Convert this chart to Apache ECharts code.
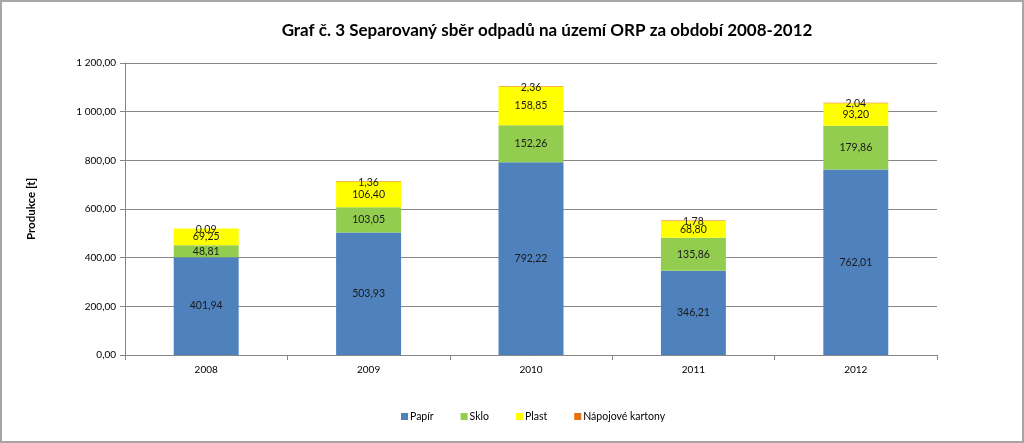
<!DOCTYPE html>
<html>
<head>
<meta charset="utf-8">
<script src="https://cdn.jsdelivr.net/npm/echarts@6/dist/echarts.min.js"></script>
<style>
html,body{margin:0;padding:0;background:#fff;}
#wrap{position:absolute;left:0;top:0;width:1020px;height:439px;border:2px solid #a6a6a6;}
#chart{position:absolute;left:0;top:0;width:1024px;height:443px;}
</style>
</head>
<body>
<div id="wrap"></div>
<div id="chart"></div>
<script>
const categories = ['2008', '2009', '2010', '2011', '2012'];
const papir = [401.94, 503.93, 792.22, 346.21, 762.01];
const sklo = [48.81, 103.05, 152.26, 135.86, 179.86];
const plast = [69.25, 106.40, 158.85, 68.80, 93.20];
const kartony = [0.09, 1.36, 2.36, 1.78, 2.04];
const seriesNames = ['Papír', 'Sklo', 'Plast', 'Nápojové kartony'];
const yTicks = [0, 200, 400, 600, 800, 1000, 1200];

const colors = ['#4F81BD', '#92CD50', '#FFFF00', '#E8700E'];
const fontFam = 'Lato, "Liberation Sans", sans-serif';

function fmt(v, withSpace) {
  let s = v.toFixed(2).replace('.', ',');
  if (withSpace) {
    const parts = s.split(',');
    parts[0] = parts[0].replace(/\B(?=(\d{3})+(?!\d))/g, ' ');
    s = parts.join(',');
  }
  return s;
}

const chart = echarts.init(document.getElementById('chart'), null, {renderer: 'canvas'});
const datasets = [papir, sklo, plast, kartony];
const option = {
  animation: false,
  color: colors,
  title: {
    text: 'Graf č. 3 Separovaný sběr odpadů na území ORP za období 2008-2012',
    left: 542, top: 17, textAlign: 'center',
    textStyle: {fontFamily: fontFam, fontSize: 17, fontWeight: 'bold', color: '#000'}
  },
  legend: {
    top: 406, left: 396,
    itemWidth: 7, itemHeight: 7, itemGap: 27,
    icon: 'rect',
    textStyle: {fontFamily: fontFam, fontSize: 10.5, color: '#000', padding: [0, 0, 0, -3]},
    data: seriesNames
  },
  grid: {left: 125, right: 87, top: 63, bottom: 88, containLabel: false},
  xAxis: {
    type: 'category', data: categories,
    axisLine: {lineStyle: {color: '#868686', width: 1}},
    axisTick: {show: true, length: 5, inside: false, lineStyle: {color: '#868686'}},
    axisLabel: {fontFamily: fontFam, fontSize: 10, color: '#000', margin: 10}
  },
  yAxis: {
    type: 'value', min: 0, max: 1200, interval: 200,
    name: 'Produkce [t]', nameLocation: 'middle', nameGap: 88, nameRotate: 90,
    nameTextStyle: {fontFamily: fontFam, fontSize: 11.5, fontWeight: 'bold', color: '#000'},
    axisLine: {show: true, lineStyle: {color: '#868686'}},
    axisTick: {show: true, length: 5, lineStyle: {color: '#868686'}},
    axisLabel: {fontFamily: fontFam, fontSize: 10, color: '#000', margin: 9,
      formatter: v => fmt(v, true)},
    splitLine: {lineStyle: {color: '#868686', width: 1}}
  },
  series: datasets.map((d, i) => ({
    name: seriesNames[i], type: 'bar', stack: 'total', barWidth: '40%',
    data: d,
    label: {show: true, position: 'inside', fontFamily: fontFam, fontSize: 10.5, color: '#1a1a1a',
      formatter: p => fmt(p.value, false)},
    labelLayout: i === 3 ? {dy: 1} : undefined
  }))
};
chart.setOption(option);
</script>
</body>
</html>
